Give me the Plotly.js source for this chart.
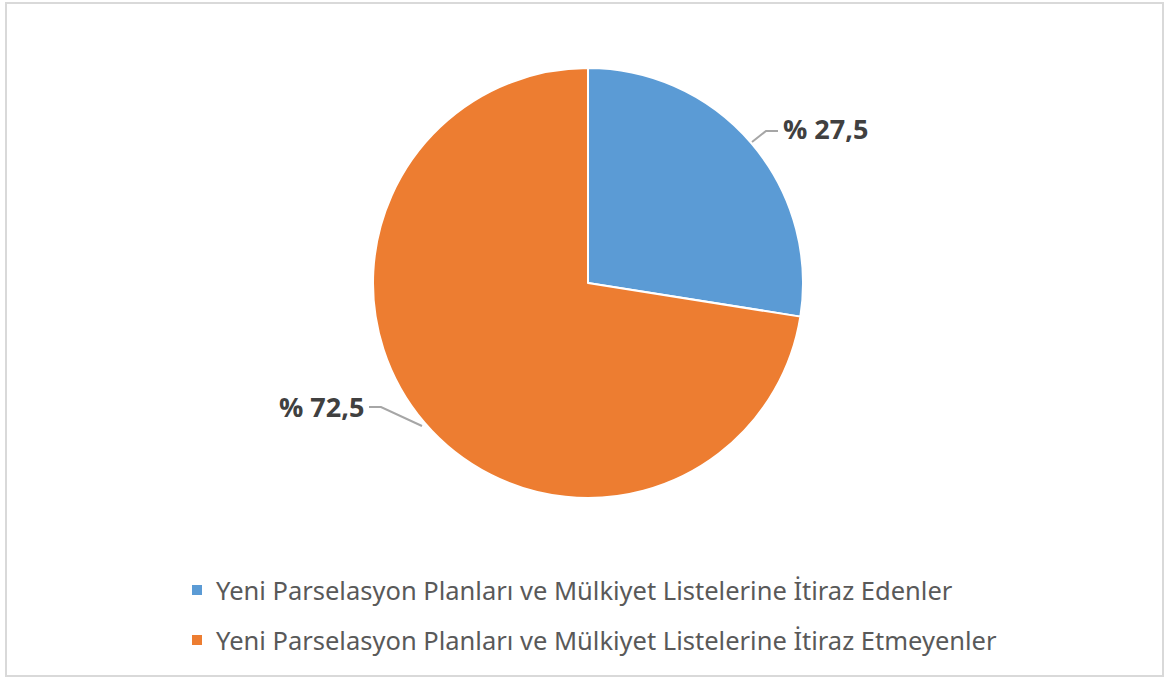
<!DOCTYPE html>
<html>
<head>
<meta charset="utf-8">
<script src="https://cdn.plot.ly/plotly-3.0.1.min.js"></script>
<style>html,body{margin:0;padding:0;background:#fff;}#chart{width:1167px;height:680px;}</style>
</head>
<body>
<div id="chart"></div>
<script>
var categories = [
  "Yeni Parselasyon Planları ve Mülkiyet Listelerine İtiraz Edenler",
  "Yeni Parselasyon Planları ve Mülkiyet Listelerine İtiraz Etmeyenler"
];
var values = [27.5, 72.5];
var colors = ["#5B9BD5", "#ED7D31"];

function fmt(v){ return "% " + v.toFixed(1).replace(".", ","); }

var W = 1167, H = 680;
function px(x){ return x / W; }
function py(y){ return 1 - y / H; }

var trace = {
  type: "pie",
  labels: categories,
  values: values,
  sort: false,
  direction: "clockwise",
  rotation: 0,
  textinfo: "none",
  hoverinfo: "label+value",
  marker: { colors: colors, line: { color: "#ffffff", width: 2 } },
  domain: { x: [px(373), px(803)], y: [py(498), py(68)] },
  showlegend: false
};

var labelFont = { family: "Open Sans, Noto Sans, sans-serif", size: 27, color: "#404040" };
var legFont = { family: "Noto Sans, Open Sans, sans-serif", size: 25.5, color: "#595959" };

var annotations = [
  { text: "<b>" + fmt(values[0]) + "</b>", x: px(781), y: py(128), xref: "paper", yref: "paper",
    xanchor: "left", yanchor: "middle", showarrow: false, font: labelFont },
  { text: "<b>" + fmt(values[1]) + "</b>", x: px(366), y: py(406), xref: "paper", yref: "paper",
    xanchor: "right", yanchor: "middle", showarrow: false, font: labelFont }
];

var shapes = [
  { type: "rect", xref: "paper", yref: "paper", x0: px(6), x1: px(1163), y0: py(676), y1: py(3),
    line: { color: "#D9D9D9", width: 2 }, fillcolor: "rgba(0,0,0,0)", layer: "below" },
  { type: "path", xref: "paper", yref: "paper",
    path: "M " + px(778) + " " + py(131) + " L " + px(766) + " " + py(131) + " L " + px(752) + " " + py(142),
    line: { color: "#A6A6A6", width: 2 } },
  { type: "path", xref: "paper", yref: "paper",
    path: "M " + px(369) + " " + py(407) + " L " + px(381) + " " + py(407) + " L " + px(422) + " " + py(426),
    line: { color: "#A6A6A6", width: 2 } }
];

var legY = [590, 640];
for (var i = 0; i < categories.length; i++) {
  annotations.push({
    text: categories[i],
    x: px(214), y: py(legY[i]), xref: "paper", yref: "paper",
    xanchor: "left", yanchor: "middle", showarrow: false, font: legFont
  });
  shapes.push({
    type: "rect", xref: "paper", yref: "paper",
    x0: px(192), x1: px(202), y0: py(legY[i] + 5), y1: py(legY[i] - 5),
    line: { width: 0 }, fillcolor: colors[i]
  });
}

var layout = {
  width: W, height: H,
  margin: { l: 0, r: 0, t: 0, b: 0 },
  paper_bgcolor: "#ffffff",
  showlegend: false,
  annotations: annotations,
  shapes: shapes
};

Plotly.newPlot("chart", [trace], layout, { displayModeBar: false, staticPlot: false });
</script>
</body>
</html>
